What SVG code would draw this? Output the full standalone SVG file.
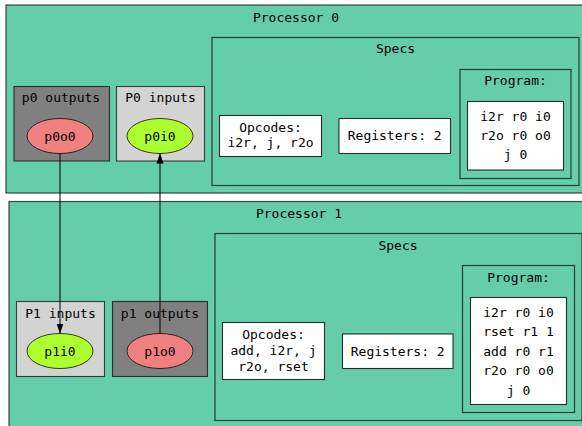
<svg xmlns="http://www.w3.org/2000/svg" width="582" height="426" viewBox="0 0 582 426">
<style>
text{font-family:"DejaVu Sans Mono","Liberation Mono",monospace;font-size:13px;fill:#000;text-anchor:middle}
.proc{fill:#66cdaa;stroke:#000;stroke-opacity:0.7;stroke-width:1.2}
.clus{fill:#66cdaa;stroke:#000;stroke-opacity:0.7;stroke-width:1.2}
.box{fill:#fff;stroke:#000;stroke-opacity:0.8;stroke-width:1.1}
.out{fill:#808080;stroke:#000;stroke-opacity:0.7;stroke-width:1.1}
.in{fill:#d3d3d3;stroke:#000;stroke-opacity:0.7;stroke-width:1.1}
.eo{fill:#f08080;stroke:#000;stroke-opacity:0.75;stroke-width:1}
.ei{fill:#adff2f;stroke:#000;stroke-opacity:0.75;stroke-width:1}
.edge{stroke:#000;stroke-width:1;fill:none}
</style>
<defs>
<marker id="arr" markerWidth="10" markerHeight="8" refX="10" refY="4" orient="auto" markerUnits="userSpaceOnUse">
<path d="M0,0.5 L10,4 L0,7.5 Z" fill="#000"/>
</marker>
</defs>
<rect width="582" height="426" fill="#fff"/>
<g id="processor0">
<rect class="proc" x="6" y="5" width="580" height="188"/>
<text x="296" y="22">Processor 0</text>
</g>
<g id="specs0">
<rect class="clus" x="212" y="37.5" width="367" height="148"/>
<text x="395.5" y="53">Specs</text>
</g>
<g id="program0">
<rect class="clus" x="460" y="69.5" width="111" height="109"/>
<text x="515.5" y="85">Program:</text>
</g>
<g id="program0_code">
<rect class="box" x="467.5" y="101.5" width="96" height="68.5"/>
<text x="515.5" y="120.5">i2r r0 i0</text>
<text x="515.5" y="140">r2o r0 o0</text>
<text x="515.5" y="159">j 0</text>
</g>
<g id="opcodes0">
<rect class="box" x="219.5" y="115.5" width="102" height="41"/>
<text x="270.5" y="131.5">Opcodes:</text>
<text x="270.5" y="146.5">i2r, j, r2o</text>
</g>
<g id="registers0">
<rect class="box" x="339" y="118.5" width="111.5" height="35"/>
<text x="394.7" y="140">Registers: 2</text>
</g>
<g id="p0outputs">
<rect class="out" x="14" y="86.5" width="95.5" height="74.5"/>
<text x="61" y="101.5">p0 outputs</text>
</g>
<g id="p0o0">
<ellipse class="eo" cx="60" cy="136" rx="33" ry="17.5"/>
<text x="60" y="140.5">p0o0</text>
</g>
<g id="p0inputs">
<rect class="in" x="116.5" y="86.5" width="88" height="74.5"/>
<text x="160.5" y="101.5">P0 inputs</text>
</g>
<g id="p0i0">
<ellipse class="ei" cx="160" cy="136" rx="33" ry="17.5"/>
<text x="160" y="140.5">p0i0</text>
</g>
<g id="processor1">
<rect class="proc" x="9" y="201.5" width="580" height="240"/>
<text x="299" y="218">Processor 1</text>
</g>
<g id="specs1">
<rect class="clus" x="215" y="233.5" width="367" height="187"/>
<text x="398" y="250">Specs</text>
</g>
<g id="program1">
<rect class="clus" x="462.5" y="265.5" width="112" height="147"/>
<text x="518.5" y="281.5">Program:</text>
</g>
<g id="program1_code">
<rect class="box" x="470.5" y="297.5" width="96" height="107"/>
<text x="518.5" y="316.5">i2r r0 i0</text>
<text x="518.5" y="336">rset r1 1</text>
<text x="518.5" y="355.5">add r0 r1</text>
<text x="518.5" y="375">r2o r0 o0</text>
<text x="518.5" y="394.5">j 0</text>
</g>
<g id="opcodes1">
<rect class="box" x="222.5" y="322.5" width="102" height="57"/>
<text x="273.5" y="339">Opcodes:</text>
<text x="273.5" y="355">add, i2r, j</text>
<text x="273.5" y="370.5">r2o, rset</text>
</g>
<g id="registers1">
<rect class="box" x="342.5" y="334" width="110.5" height="34.5"/>
<text x="397.7" y="356">Registers: 2</text>
</g>
<g id="p1inputs">
<rect class="in" x="16.5" y="301.5" width="88" height="75"/>
<text x="60.5" y="317.5">P1 inputs</text>
</g>
<g id="p1i0">
<ellipse class="ei" cx="60" cy="351" rx="33" ry="17.5"/>
<text x="60" y="355.5">p1i0</text>
</g>
<g id="p1outputs">
<rect class="out" x="112.5" y="301.5" width="95" height="75"/>
<text x="160" y="317.5">p1 outputs</text>
</g>
<g id="p1o0">
<ellipse class="eo" cx="160" cy="351" rx="33" ry="17.5"/>
<text x="160" y="355.5">p1o0</text>
</g>
<g id="connectors">
<path class="edge" d="M60,153.5 L60,333.5" marker-end="url(#arr)"/>
<path class="edge" d="M160,333.5 L160,153.5" marker-end="url(#arr)"/>
</g>
</svg>
